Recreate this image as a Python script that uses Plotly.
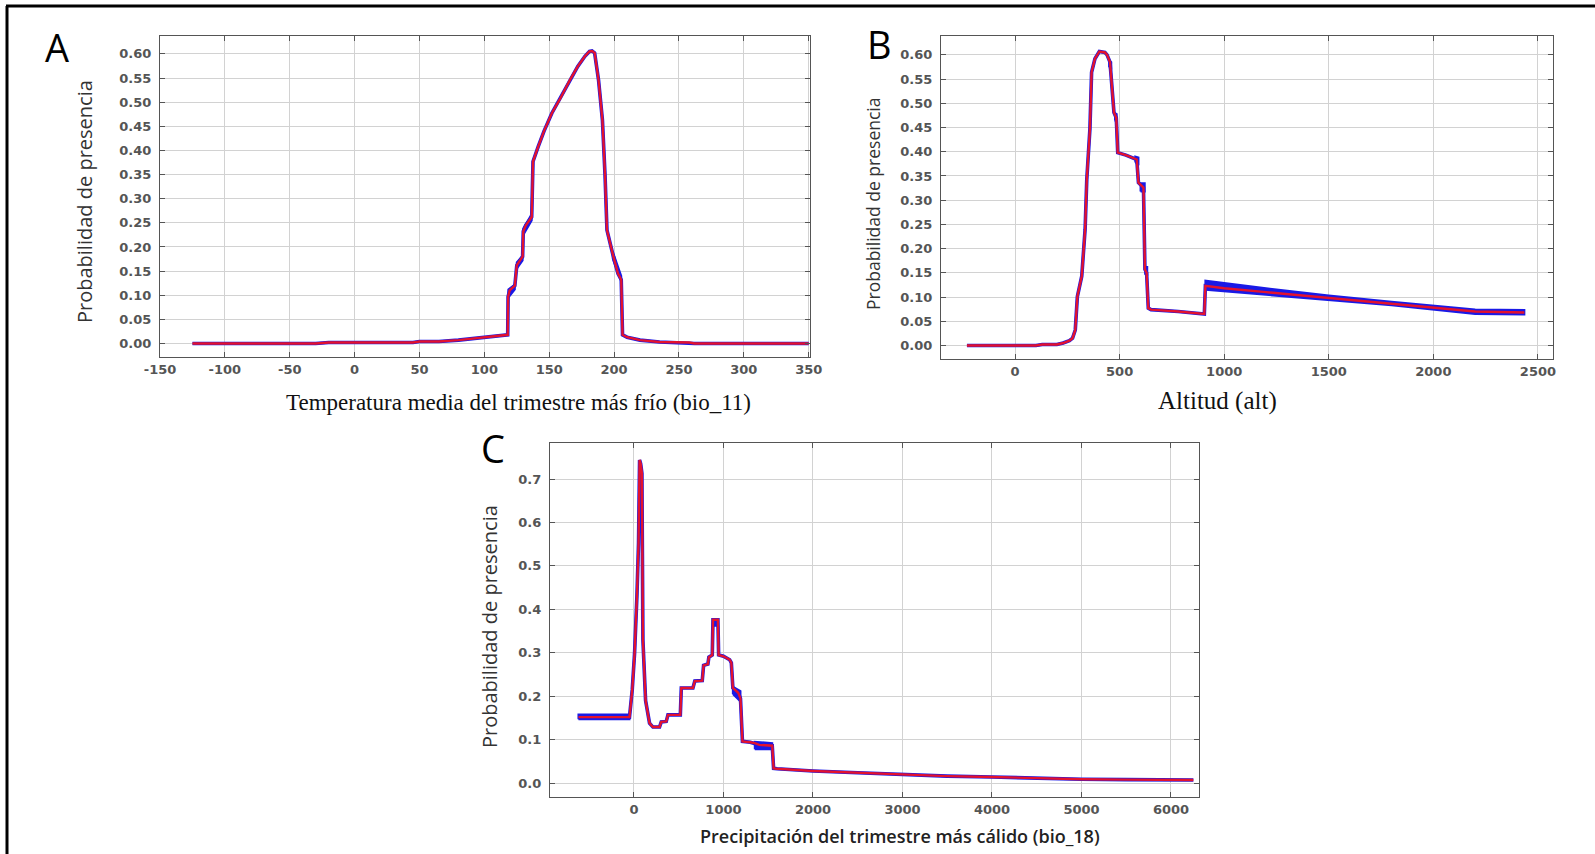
import plotly.graph_objects as go

# ---------------- Panel A: bio_11 ----------------
temp_x = [-125, -30, -20, 45, 50, 65, 80, 100, 118, 118.3, 119.5, 123.5, 125, 127, 129.5,
          130, 132, 136.5, 137.5, 141.5, 146, 152, 158, 166, 172, 177.5, 181, 183, 185,
          188, 191, 193, 194.5, 199, 203, 205.5, 206.5, 210, 220, 235, 258, 262, 350]
temp_y = [0.000, 0.000, 0.002, 0.002, 0.004, 0.004, 0.007, 0.012, 0.018, 0.097, 0.110, 0.120,
          0.162, 0.170, 0.180, 0.232, 0.245, 0.262, 0.377, 0.408, 0.440, 0.477, 0.505, 0.546,
          0.574, 0.595, 0.605, 0.606, 0.602, 0.546, 0.463, 0.350, 0.235, 0.185, 0.145, 0.132,
          0.018, 0.013, 0.007, 0.003, 0.002, 0.000, 0.000]
temp_band_x = [118.5, 123.5, None, 125, 129.5, None, 130, 136.5, None, 199, 205.5]
temp_band_lo = [0.095, 0.112, None, 0.155, 0.172, None, 0.225, 0.255, None, 0.175, 0.128]
temp_band_hi = [0.112, 0.122, None, 0.168, 0.182, None, 0.238, 0.268, None, 0.190, 0.140]

# ---------------- Panel B: altitude ----------------
alt_x = [-230, 100, 130, 200, 230, 260, 275, 288, 298, 319, 335, 343, 358, 366, 382, 403, 430,
         440, 454, 473, 484, 491, 530, 582, 590, 614, 621, 629, 637, 650, 780, 905, 910, 1000,
         1200, 1500, 1800, 2000, 2200, 2435]
alt_y = [0.000, 0.000, 0.002, 0.002, 0.005, 0.010, 0.015, 0.032, 0.101, 0.143, 0.240, 0.343,
         0.447, 0.564, 0.592, 0.607, 0.605, 0.600, 0.585, 0.481, 0.470, 0.398, 0.393, 0.384,
         0.336, 0.326, 0.157, 0.150, 0.077, 0.074, 0.070, 0.065, 0.123, 0.118, 0.110, 0.098,
         0.087, 0.078, 0.070, 0.068]
alt_band_x = [450, 460, None, 478, 486, None, 575, 590, None, 600, 620, None, 622, 632, None,
              910, 1200, 1500, 1800, 2200, 2435]
alt_band_lo = [0.575, 0.570, None, 0.465, 0.460, None, 0.378, 0.375, None, 0.318, 0.318, None,
               0.146, 0.146, None, 0.115, 0.105, 0.094, 0.083, 0.065, 0.064]
alt_band_hi = [0.588, 0.585, None, 0.480, 0.478, None, 0.390, 0.388, None, 0.335, 0.335, None,
               0.162, 0.162, None, 0.134, 0.118, 0.103, 0.090, 0.074, 0.073]

# ---------------- Panel C: bio_18 ----------------
prec_x = [-620, -50, -19, 7, 33, 51, 63, 75, 89, 100, 130, 174, 212, 286, 305, 361, 380, 518,
          529, 659, 680, 763, 778, 826, 837, 875, 883, 938, 946, 1000, 1069, 1088, 1105, 1165,
          1190, 1212, 1300, 1350, 1400, 1545, 1560, 1600, 2000, 2500, 3000, 3500, 4000, 4500,
          5000, 5500, 6250]
prec_y = [0.152, 0.152, 0.215, 0.299, 0.430, 0.552, 0.744, 0.735, 0.713, 0.330, 0.190, 0.138,
          0.129, 0.129, 0.141, 0.142, 0.157, 0.157, 0.219, 0.219, 0.235, 0.236, 0.271, 0.274,
          0.290, 0.295, 0.376, 0.376, 0.295, 0.292, 0.284, 0.277, 0.219, 0.208, 0.195, 0.096,
          0.094, 0.092, 0.088, 0.086, 0.034, 0.033, 0.028, 0.024, 0.019, 0.016, 0.014, 0.011,
          0.009, 0.008, 0.007]
prec_band_x = [-620, -50, None, 883, 938, None, 1105, 1190, None, 1350, 1545]
prec_band_lo = [0.147, 0.147, None, 0.362, 0.362, None, 0.205, 0.188, None, 0.078, 0.078]
prec_band_hi = [0.158, 0.158, None, 0.378, 0.378, None, 0.222, 0.212, None, 0.095, 0.092]

# axis ticks
temp_ticks = list(range(-150, 351, 50))
alt_ticks = list(range(0, 2501, 500))
prec_ticks = list(range(0, 6001, 1000))
prob_ticks_ab = [i * 0.05 for i in range(13)]
prob_ticks_c = [i * 0.1 for i in range(8)]

W, H = 1595, 854
BLUE = "#1a1ae6"
RED = "#e3122e"


def px(x):
    return x / W


def py(y):
    return 1 - y / H


def band_polygon(bx, lo, hi):
    """Closed outlines (separated by None) for each segment of the spread band."""
    xs, ys = [], []
    seg_x, seg_lo, seg_hi = [], [], []
    for x, a, b in list(zip(bx, lo, hi)) + [(None, None, None)]:
        if x is None:
            if seg_x:
                xs += seg_x + seg_x[::-1] + [seg_x[0], None]
                ys += seg_lo + seg_hi[::-1] + [seg_lo[0], None]
            seg_x, seg_lo, seg_hi = [], [], []
        else:
            seg_x.append(x)
            seg_lo.append(a)
            seg_hi.append(b)
    return xs, ys


fig = go.Figure()


def add_panel(xa, ya, x, y, bx, blo, bhi):
    polx, poly = band_polygon(bx, blo, bhi)
    fig.add_trace(go.Scatter(x=polx, y=poly, mode="lines", xaxis=xa, yaxis=ya,
                             fill="toself", fillcolor=BLUE,
                             line=dict(color=BLUE, width=2), hoverinfo="skip",
                             showlegend=False))
    fig.add_trace(go.Scatter(x=x, y=y, mode="lines", xaxis=xa, yaxis=ya,
                             line=dict(color=BLUE, width=3.6), showlegend=False,
                             hoverinfo="skip"))
    fig.add_trace(go.Scatter(x=x, y=y, mode="lines", xaxis=xa, yaxis=ya,
                             line=dict(color=RED, width=2.4), showlegend=False))


add_panel("x", "y", temp_x, temp_y, temp_band_x, temp_band_lo, temp_band_hi)
add_panel("x2", "y2", alt_x, alt_y, alt_band_x, alt_band_lo, alt_band_hi)
add_panel("x3", "y3", prec_x, prec_y, prec_band_x, prec_band_lo, prec_band_hi)

tick_font = dict(family="DejaVu Sans", size=13, color="#555555", weight="bold")
axis_common = dict(showline=True, linecolor="#555555", linewidth=1.3, mirror="ticks",
                   ticks="inside", ticklen=5, tickcolor="#555555", tickwidth=1.3,
                   showgrid=True, gridcolor="#d2d2d2", gridwidth=1, zeroline=False,
                   tickfont=tick_font)


def labels(vals, fmt):
    return [fmt.format(v).replace("\u2212", "-") for v in vals]


fig.update_layout(
    width=W, height=H,
    margin=dict(l=0, r=0, t=0, b=0, pad=0, autoexpand=False),
    paper_bgcolor="white", plot_bgcolor="white",
    showlegend=False,
    xaxis=dict(domain=[px(160), px(810)], range=[-150, 351], tickvals=temp_ticks,
               ticktext=labels(temp_ticks, "{:d}"), anchor="y", **axis_common),
    yaxis=dict(domain=[py(357), py(36)], range=[-0.028, 0.637], tickvals=prob_ticks_ab,
               ticktext=labels(prob_ticks_ab, "{:.2f}"), ticklabelstandoff=5, anchor="x",
               **axis_common),
    xaxis2=dict(domain=[px(941), px(1553)], range=[-354, 2572], tickvals=alt_ticks,
                ticktext=labels(alt_ticks, "{:d}"), anchor="y2", **axis_common),
    yaxis2=dict(domain=[py(359), py(36)], range=[-0.028, 0.639], tickvals=prob_ticks_ab,
                ticktext=labels(prob_ticks_ab, "{:.2f}"), ticklabelstandoff=5, anchor="x2",
                **axis_common),
    xaxis3=dict(domain=[px(550), px(1199)], range=[-938, 6313], tickvals=prec_ticks,
                ticktext=labels(prec_ticks, "{:d}"), anchor="y3", **axis_common),
    yaxis3=dict(domain=[py(797), py(443)], range=[-0.032, 0.783], tickvals=prob_ticks_c,
                ticktext=labels(prob_ticks_c, "{:.1f}"), ticklabelstandoff=5, anchor="x3",
                **axis_common),
)

ytitle_font = dict(family="Open Sans", color="#333333")
annotations = [
    # panel letters
    dict(text="A", x=px(57), y=py(47), font=dict(family="Open Sans", size=38, color="black")),
    dict(text="B", x=px(879), y=py(44), font=dict(family="Open Sans", size=38, color="black")),
    dict(text="C", x=px(493), y=py(448), font=dict(family="Open Sans", size=38, color="black")),
    # y-axis titles
    dict(text="Probabilidad de presencia", x=px(84), y=py(202), textangle=-90,
         font=dict(size=20, **ytitle_font)),
    dict(text="Probabilidad de presencia", x=px(873), y=py(204), textangle=-90,
         font=dict(size=17.5, **ytitle_font)),
    dict(text="Probabilidad de presencia", x=px(489), y=py(627), textangle=-90,
         font=dict(size=20, **ytitle_font)),
    # x-axis titles
    dict(text="Temperatura media del trimestre más frío (bio_11)", x=px(518), y=py(402),
         font=dict(family="Liberation Serif", size=23, color="#111111")),
    dict(text="Altitud (alt)", x=px(1217), y=py(401),
         font=dict(family="Liberation Serif", size=25, color="#111111")),
    dict(text="Precipitación del trimestre más cálido (bio_18)", x=px(900), y=py(836),
         font=dict(family="Open Sans", size=18, color="#222222", weight=600)),
]
for a in annotations:
    a.update(xref="paper", yref="paper", showarrow=False, xanchor="center", yanchor="middle")
fig.update_layout(annotations=annotations)

# outer frame lines (top and left)
fig.add_shape(type="line", xref="paper", yref="paper", x0=px(6), x1=1, y0=py(6), y1=py(6),
              line=dict(color="black", width=3))
fig.add_shape(type="line", xref="paper", yref="paper", x0=px(7), x1=px(7), y0=py(6), y1=0,
              line=dict(color="black", width=3))

fig.write_html("out.html")
